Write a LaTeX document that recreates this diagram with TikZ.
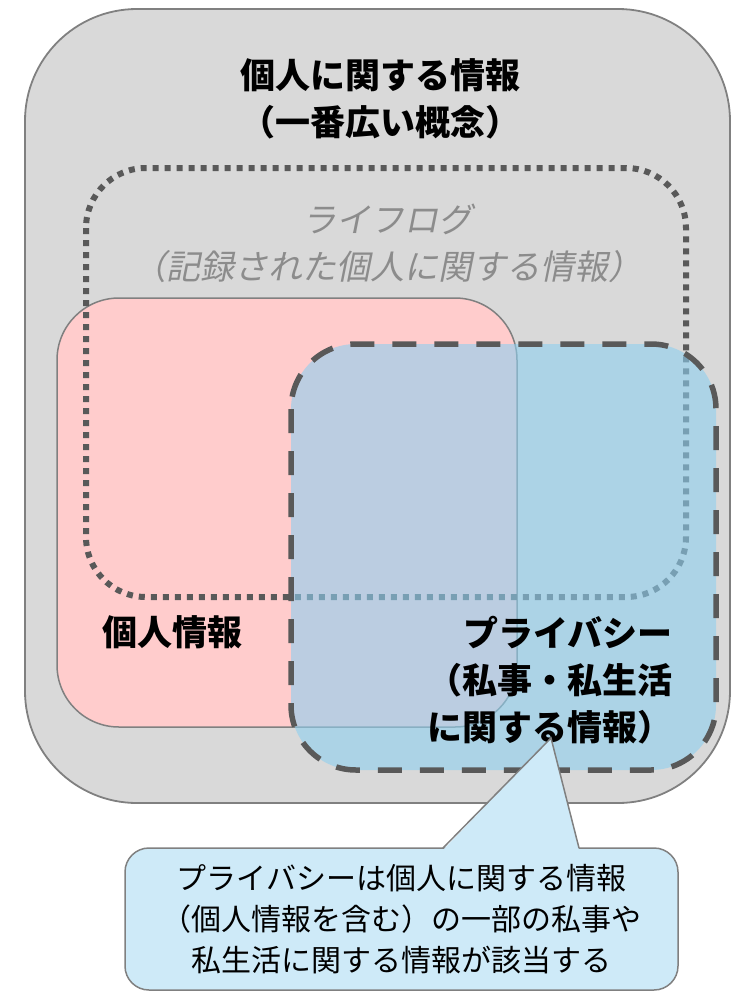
\documentclass[tikz,border=0pt]{standalone}
\usepackage{fontspec}
\newfontfamily\jp{Noto Sans CJK JP}
\newfontfamily\jpit{Noto Sans CJK JP}[FakeSlant=0.2]
\definecolor{outergray}{RGB}{217,217,217}
\definecolor{edgegray}{RGB}{128,128,128}
\definecolor{darkline}{RGB}{89,89,89}
\definecolor{pinkfill}{RGB}{255,204,204}
\definecolor{bluefill}{RGB}{142,207,239}
\definecolor{callfill}{RGB}{206,234,248}
\definecolor{logtext}{RGB}{140,140,140}
\tikzset{
  outerbox/.style={fill=outergray, draw=edgegray, line width=1.8pt, rounded corners=112pt},
  pinkbox/.style={fill=pinkfill, draw=edgegray, line width=1.5pt, rounded corners=62pt},
  logbox/.style={draw=darkline, line width=6pt, dash pattern=on 6pt off 6pt, rounded corners=60pt},
  privbox/.style={fill=bluefill, fill opacity=0.6, draw=darkline, draw opacity=1, line width=5.5pt, dash pattern=on 24pt off 18pt, rounded corners=65pt},
  boldlabel/.style={font=\jp\bfseries\fontsize{35pt}{47pt}\selectfont, text=black, inner sep=0pt},
  loglabel/.style={font=\jpit\fontsize{34pt}{47pt}\selectfont, text=logtext, inner sep=0pt, align=center},
  calloutbox/.style={fill=callfill, draw=edgegray, line width=1.5pt, rounded corners=24pt, minimum width=553pt, minimum height=142pt, font=\jp\fontsize{30pt}{41pt}\selectfont, align=center, inner sep=0pt}
}
\begin{document}
\begin{tikzpicture}[x=1pt, y=-1pt]
\useasboundingbox (0,0) rectangle (731,994);
% outer box
\draw[outerbox] (25,9) rectangle (730,803);
\node[boldlabel, align=center] (title) at (380,99) {個人に関する情報\\（一番広い概念）};
% pink box
\draw[pinkbox] (57,298) rectangle (517,727);
% lifelog dotted box
\draw[logbox] (86,168) rectangle (686,597);
\node[loglabel] (loglbl) at (387,243) {ライフログ\\（記録された個人に関する情報）};
% privacy dashed box
\draw[privbox] (291,344) rectangle (716,770);
\node[boldlabel] (kojin) at (172,632) {個人情報};
\node[boldlabel, align=right, anchor=east] (priv) at (673,680) {プライバシー\\（私事・私生活\\に関する情報）};
% callout
\node[calloutbox] (callout) at (401.5,919) {プライバシーは個人に関する情報\\（個人情報を含む）の一部の私事や\\私生活に関する情報が該当する};
\coordinate (tip) at (551,738);
\coordinate (bl) at (443,848);
\coordinate (br) at (579,848);
\fill[callfill] (443,850) -- (tip) -- (579,850) -- cycle;
\draw[draw=edgegray, line width=1.5pt, line join=miter] (bl) -- (tip) -- (br);
\end{tikzpicture}
\end{document}
